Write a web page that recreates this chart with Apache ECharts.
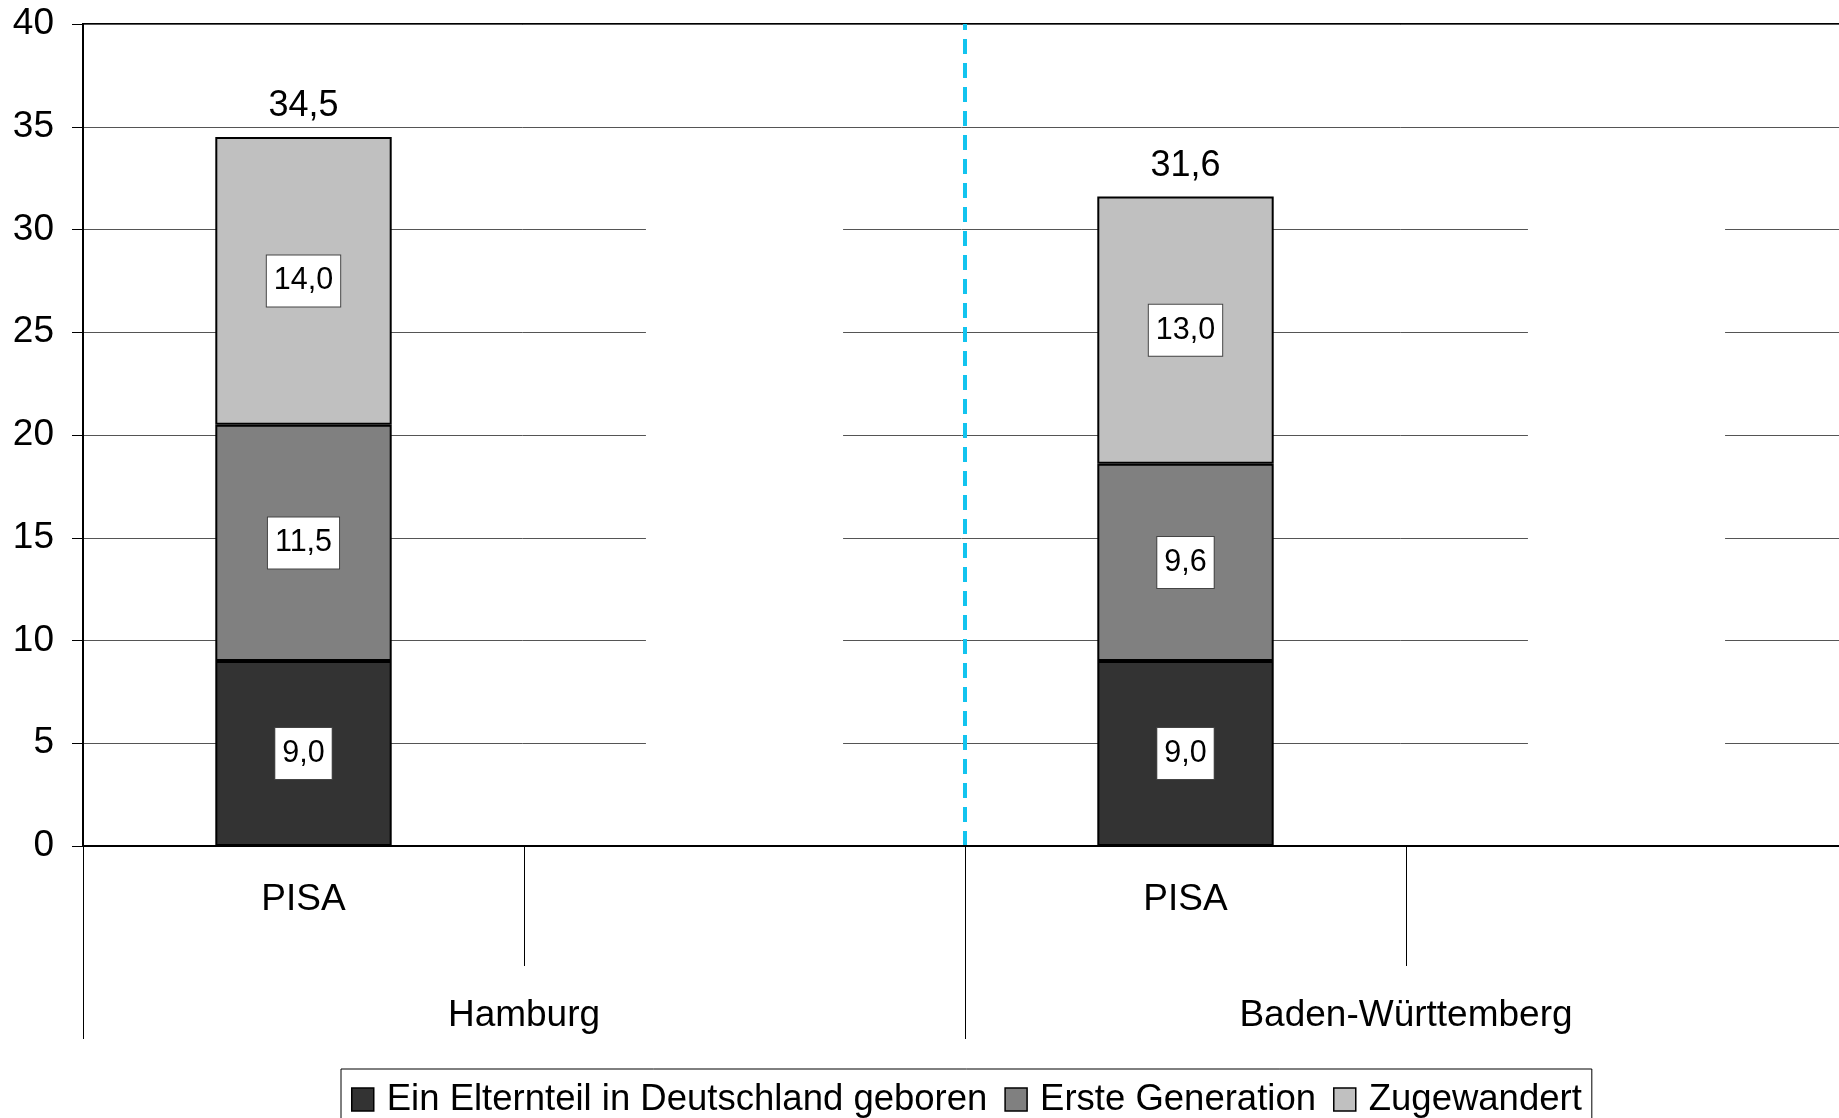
<!DOCTYPE html>
<html>
<head>
<meta charset="utf-8">
<script src="https://cdn.jsdelivr.net/npm/echarts@6/dist/echarts.min.js"></script>
<style>
  html, body { margin: 0; padding: 0; background: #fff; }
  #chart { width: 1839px; height: 1118px; }
</style>
</head>
<body>
<div id="chart"></div>
<script>
// Categories: study per region (second slot of each region is left empty)
const studies = ['PISA', '', 'PISA', ''];
const regions = ['Hamburg', 'Baden-Württemberg'];

// Series (percent)
const seriesNames = ['Ein Elternteil in Deutschland geboren', 'Erste Generation', 'Zugewandert'];
const einElternteil = [9.0, null, 9.0, null];
const ersteGeneration = [11.5, null, 9.6, null];
const zugewandert = [14.0, null, 13.0, null];
const totals = [34.5, null, 31.6, null];

// White blank blocks in the empty slots
const blankBlocks = [null, 32, null, 32];

// Dashed divider between the two regions (position in category units)
const dividerAt = [2];

// Value axis ticks
const yTicks = [0, 5, 10, 15, 20, 25, 30, 35, 40];

const FONT = "'Liberation Sans', Arial, sans-serif";
const fillColors = ['#333333', '#808080', '#c0c0c0'];
const fmt = v => Number(v).toFixed(1).replace('.', ',');

const chart = echarts.init(document.getElementById('chart'), null, { renderer: 'canvas' });

const stackSeries = [einElternteil, ersteGeneration, zugewandert].map((vals, i) => ({
  name: seriesNames[i],
  type: 'bar',
  stack: 'anteil',
  barWidth: '40%',
  data: vals,
  itemStyle: { color: fillColors[i], borderColor: '#000', borderWidth: 2 },
  label: {
    show: true,
    position: 'inside',
    formatter: p => fmt(p.value),
    fontFamily: FONT,
    fontSize: 30.5,
    color: '#000',
    backgroundColor: '#fff',
    borderColor: '#444',
    borderWidth: 1,
    padding: [11, 7, 9, 7]
  },
  silent: true
}));

const option = {
  animation: false,
  backgroundColor: '#fff',
  textStyle: { fontFamily: FONT },
  grid: {
    left: 83, top: 24, right: -8, bottom: 272,
    show: true, borderColor: '#000', borderWidth: 2,
    outerBoundsMode: 'none', containLabel: false
  },
  legend: {
    data: seriesNames,
    left: 341, top: 1069,
    orient: 'horizontal',
    padding: [12, 10, 12, 10],
    itemGap: 17,
    itemWidth: 22, itemHeight: 23,
    icon: 'rect',
    borderColor: '#000', borderWidth: 1,
    backgroundColor: '#fff',
    itemStyle: { borderColor: '#000', borderWidth: 1.5 },
    textStyle: { fontFamily: FONT, fontSize: 36.5, color: '#000', padding: [0, 0, 0, 8] },
    selectedMode: false
  },
  xAxis: [
    {
      type: 'category',
      data: studies,
      position: 'bottom',
      z: 5,
      axisLine: { show: true, lineStyle: { color: '#000', width: 2 } },
      axisTick: { show: true, length: 120, interval: 0, lineStyle: { color: '#000', width: 1 } },
      axisLabel: { interval: 0, margin: 35, fontFamily: FONT, fontSize: 37, color: '#000' },
      splitLine: { show: false }
    },
    {
      type: 'category',
      data: regions,
      position: 'bottom',
      gridIndex: 0,
      z: 5,
      axisLine: { show: false },
      axisTick: { show: true, length: 193, interval: 0, lineStyle: { color: '#000', width: 1 } },
      axisLabel: { interval: 0, margin: 151, fontFamily: FONT, fontSize: 37, color: '#000' },
      splitLine: { show: false }
    },
    {
      type: 'value',
      min: 0, max: studies.length,
      position: 'top',
      show: false
    }
  ],
  yAxis: {
    type: 'value',
    min: yTicks[0], max: yTicks[yTicks.length - 1], interval: yTicks[1] - yTicks[0],
    axisLine: { show: true, lineStyle: { color: '#000', width: 2 } },
    axisTick: { show: true, length: 11, lineStyle: { color: '#000', width: 1 } },
    axisLabel: { margin: 29, fontFamily: FONT, fontSize: 37, color: '#000' },
    splitLine: { show: true, lineStyle: { color: '#555', width: 1 } }
  },
  series: [
    ...stackSeries,
    {
      // white blocks in the empty slots, slightly wider than the bars
      name: 'blank',
      type: 'custom',
      data: blankBlocks.map((v, i) => [i, v]),
      silent: true,
      z: 1,
      renderItem: (params, api) => {
        const v = api.value(1);
        if (v == null || isNaN(v)) return null;
        const top = api.coord([api.value(0), v]);
        const base = api.coord([api.value(0), 0]);
        const w = api.size([1, 0])[0] * 0.447;
        return {
          type: 'rect',
          shape: { x: top[0] - w / 2, y: top[1], width: w, height: base[1] - top[1] },
          style: { fill: '#fff' }
        };
      }
    },
    {
      name: 'Summe',
      type: 'scatter',
      data: totals,
      symbolSize: 1,
      itemStyle: { color: 'rgba(0,0,0,0)', opacity: 1 },
      label: {
        show: true, position: 'top', distance: 12,
        formatter: p => fmt(p.value),
        fontFamily: FONT, fontSize: 36, color: '#000', opacity: 1
      },
      silent: true,
      z: 6
    },
    {
      name: 'divider',
      type: 'line',
      xAxisIndex: 2,
      data: [],
      silent: true,
      markLine: {
        silent: true,
        symbol: ['none', 'none'],
        label: { show: false },
        lineStyle: { color: '#12c4ef', width: 4, type: [15, 9] },
        data: dividerAt.map(x => ({ xAxis: x }))
      }
    }
  ]
};

chart.setOption(option);
</script>
</body>
</html>
